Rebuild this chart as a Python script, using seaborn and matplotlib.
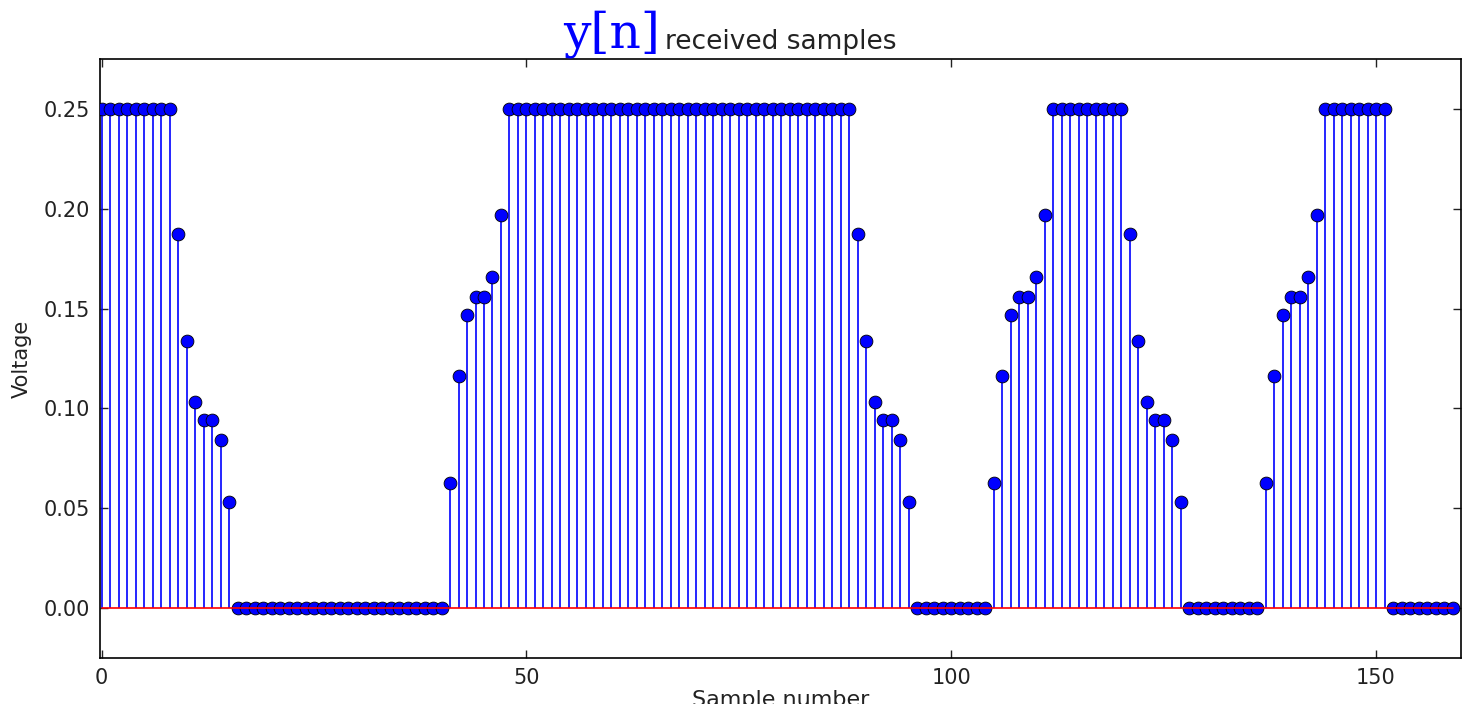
import numpy as np
import pandas as pd
import matplotlib
matplotlib.use("Agg")
import matplotlib.pyplot as plt
import seaborn as sns

# received samples y[n]
high = [0.25]
fall = [0.1875, 0.134, 0.103, 0.094, 0.094, 0.084, 0.053]
rise = [0.0625, 0.116, 0.147, 0.156, 0.156, 0.166, 0.197]

voltage = (high * 9 + fall + [0.0] * 25 + rise + high * 41 + fall + [0.0] * 9
           + rise + high * 9 + fall + [0.0] * 9 + rise + high * 8 + [0.0] * 8)
sample = list(range(len(voltage)))

x_ticks = [0, 50, 100, 150]
y_ticks = [0.00, 0.05, 0.10, 0.15, 0.20, 0.25]

df = pd.DataFrame({'sample': sample, 'voltage': voltage})

sns.set_style('ticks')
plt.rcParams['font.family'] = ['DejaVu Sans']

fig = plt.figure(figsize=(14.63, 7.04), dpi=100)
ax = fig.add_axes([100 / 1463, 46 / 704, 1361 / 1463, 599 / 704])

# stems
ax.vlines(df['sample'], 0, df['voltage'], color='blue', linewidth=1.2, zorder=2)
# markers
sns.scatterplot(data=df, x='sample', y='voltage', ax=ax, color='blue',
                s=85, edgecolor='black', linewidth=0.6, zorder=3, legend=False)
# baseline
ax.plot([sample[0], sample[-1]], [0, 0], color='red', linewidth=1.2, zorder=4)

ax.set_xlim(-0.2, 160)
ax.set_ylim(-0.025, 0.275)
ax.set_xticks(x_ticks)
ax.set_yticks(y_ticks)
ax.set_yticklabels([f'{v:.2f}' for v in y_ticks])

ax.tick_params(direction='in', top=True, right=True, length=6, width=1,
               labelsize=15, colors='#222222', pad=7)
for s in ax.spines.values():
    s.set_color('black')
    s.set_linewidth(1.2)

ax.set_xlabel('Sample number', fontsize=16, labelpad=2, color='#222222')
ax.set_ylabel('Voltage', fontsize=15, labelpad=9, color='#222222')

fig.text(563 / 1463, 1 - 47 / 704, 'y[n]', family='DejaVu Serif', color='blue',
         fontsize=35, ha='left', va='baseline')
fig.text(665 / 1463, 1 - 49 / 704, 'received samples', color='#222222',
         fontsize=19, ha='left', va='baseline')

fig.savefig('out.png', dpi=100)
